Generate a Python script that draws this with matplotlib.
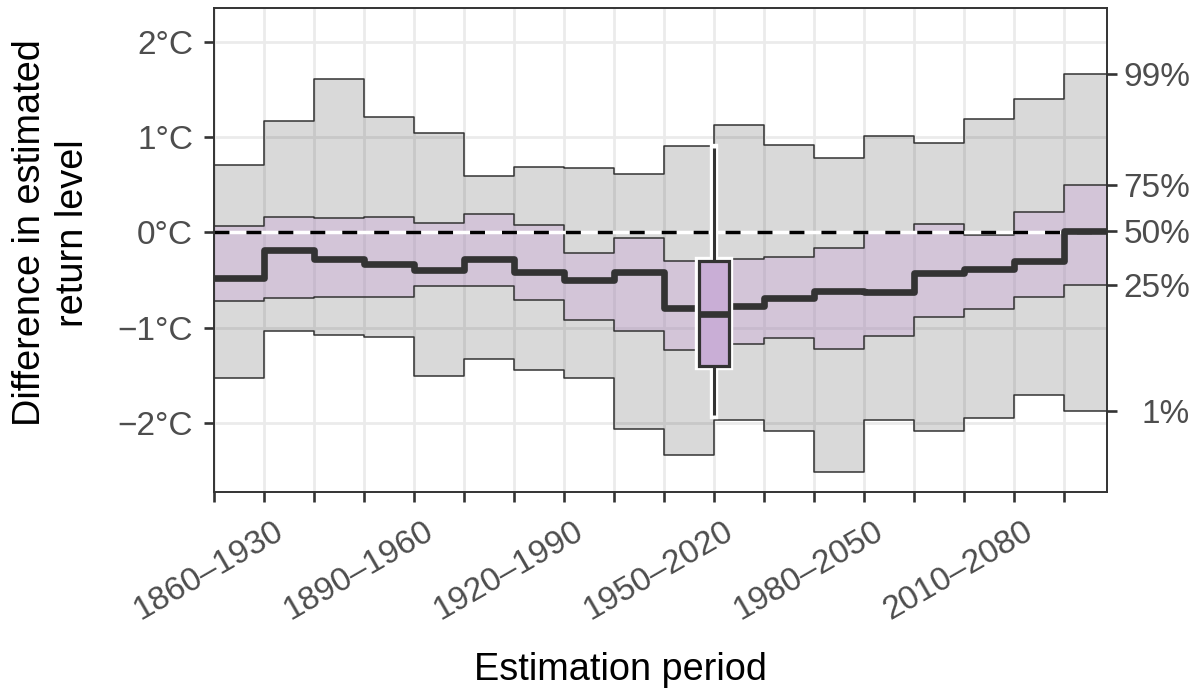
import numpy as np
import matplotlib.pyplot as plt
import matplotlib.transforms as mtrans

plt.rcParams['font.family'] = ['Liberation Sans', 'DejaVu Sans']

# start year of each 70-year estimation window
years = np.arange(1850, 2021, 10)
window = 70
label_years = [1860, 1890, 1920, 1950, 1980, 2010]

# quantiles of the difference in estimated return level (deg C)
q99 = np.array([0.71, 1.17, 1.61, 1.21, 1.04, 0.59, 0.69, 0.67, 0.61,
                0.91, 1.13, 0.92, 0.78, 1.01, 0.94, 1.19, 1.40, 1.66])
q75 = np.array([0.07, 0.16, 0.15, 0.16, 0.10, 0.19, 0.08, -0.22, -0.06,
                -0.30, -0.28, -0.26, -0.16, -0.01, 0.09, -0.03, 0.21, 0.50])
q50 = np.array([-0.48, -0.19, -0.28, -0.33, -0.40, -0.28, -0.42, -0.50, -0.42,
                -0.79, -0.77, -0.69, -0.62, -0.63, -0.43, -0.39, -0.30, 0.014])
q25 = np.array([-0.72, -0.69, -0.68, -0.68, -0.56, -0.56, -0.71, -0.92, -1.04,
                -1.23, -1.17, -1.11, -1.22, -1.09, -0.89, -0.80, -0.68, -0.555])
q01 = np.array([-1.53, -1.04, -1.08, -1.10, -1.51, -1.33, -1.45, -1.53, -2.06,
                -2.34, -1.97, -2.09, -2.51, -1.97, -2.08, -1.95, -1.71, -1.88])
quant_labels = ['99%', '75%', '50%', '25%', '1%']

# boxplot for the observed 1950-2020 window
box_year = 1950
box_whislo, box_q1, box_med, box_q3, box_whishi = -1.917, -1.403, -0.857, -0.298, 0.884

y_ticks = [2, 1, 0, -1, -2]
y_ticklabels = ['2°C', '1°C', '0°C', '−1°C', '−2°C']

xmax = 2028.6
dark = '#333333'
tick_col = '#4D4D4D'
tick_fs = 24
title_fs = 27.3

fig = plt.figure(figsize=(11.98, 6.89), dpi=100)
ax = fig.add_axes([214/1198, 1 - 492/689, 893/1198, 484/689])

edges = np.append(years, xmax)
def ext(v):
    return np.append(v, v[-1])

# bands
ax.fill_between(edges, ext(q01), ext(q99), step='post', color='black', alpha=0.15, lw=0, zorder=1)
ax.fill_between(edges, ext(q25), ext(q75), step='post', color='#C8A2D8', alpha=0.35, lw=0, zorder=1.1)
for q in (q99, q75, q25, q01):
    ax.step(edges, ext(q), where='post', color=dark, lw=1.1, zorder=2)

# zero line: white underlay + black dashes
ax.axhline(0, color='white', lw=2.5, zorder=3)
ax.axhline(0, color='black', lw=2.5, ls=(0, (4.3, 4.9)), zorder=3.1)

# median
ax.step(edges, ext(q50), where='post', color=dark, lw=4.8, zorder=4,
        solid_joinstyle='round', solid_capstyle='butt')

# boxplot with white halo
stats = [dict(whislo=box_whislo, q1=box_q1, med=box_med, q3=box_q3, whishi=box_whishi, label='')]
ax.bxp(stats, positions=[box_year], widths=6, showcaps=False, showfliers=False,
       patch_artist=True, manage_ticks=False, zorder=5,
       boxprops=dict(facecolor='white', edgecolor='white', lw=6),
       whiskerprops=dict(color='white', lw=6, solid_capstyle='projecting'),
       medianprops=dict(color='white', lw=6))
ax.bxp(stats, positions=[box_year], widths=6, showcaps=False, showfliers=False,
       patch_artist=True, manage_ticks=False, zorder=6,
       boxprops=dict(facecolor='#C9AED6', edgecolor=dark, lw=2.3),
       whiskerprops=dict(color=dark, lw=2.2, solid_capstyle='butt'),
       medianprops=dict(color=dark, lw=4.8, solid_capstyle='butt'))

ax.set_xlim(years[0], xmax)
ax.set_ylim(-2.725, 2.354)

ax.set_xticks(years)
ax.set_xticklabels([f'{y}–{y + window}' if y in label_years else '' for y in years],
                   rotation=30, ha='right', rotation_mode='anchor')
ax.set_yticks(y_ticks)
ax.set_yticklabels(y_ticklabels)
ax.tick_params(length=7, width=1.9, color=dark, labelsize=tick_fs, labelcolor=tick_col, pad=8)
ax.tick_params(axis='x', pad=10)
# nudge rotated labels right a little
shift = mtrans.ScaledTranslation(9/100, 0, fig.dpi_scale_trans)
for lab in ax.get_xticklabels():
    lab.set_transform(lab.get_transform() + shift)
ax.grid(color='#EBEBEB', lw=2)
ax.set_axisbelow(True)
for s in ax.spines.values():
    s.set_color(dark)
    s.set_linewidth(1.4)
    s.set_zorder(7)

# right axis with quantile labels
ax2 = ax.twinx()
ax2.set_ylim(ax.get_ylim())
ax2.set_yticks([q99[-1], q75[-1], q50[-1], q25[-1], q01[-1]])
ax2.set_yticklabels(quant_labels)
ax2.tick_params(length=7, width=1.9, color=dark, labelsize=tick_fs, labelcolor=tick_col, pad=52.8)
for lab in ax2.get_yticklabels():
    lab.set_horizontalalignment('right')
for s in ax2.spines.values():
    s.set_visible(False)

fig.text(620/1198, 9/689, 'Estimation period', fontsize=title_fs, ha='center', va='baseline')
fig.text(52/1198, 1 - 233/689, 'Difference in estimated\nreturn level', fontsize=title_fs,
         rotation=90, ha='center', va='center', multialignment='center', linespacing=1.25)

fig.savefig('out.png', dpi=100)
